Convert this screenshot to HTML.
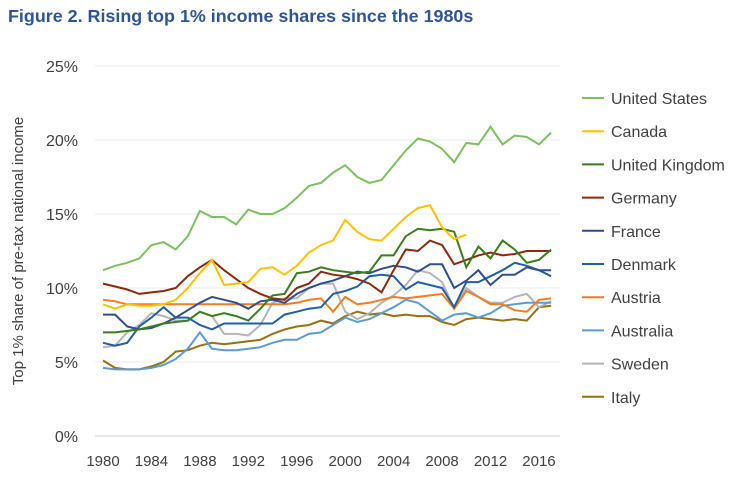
<!DOCTYPE html>
<html><head><meta charset="utf-8"><style>
body{margin:0;background:#fff;font-family:"Liberation Sans",sans-serif;}
svg text{font-family:"Liberation Sans",sans-serif;}
</style></head><body>
<svg id="c" width="754" height="477">
<text x="8" y="22" font-size="17.9" font-weight="bold" fill="#2f5597">Figure 2. Rising top 1% income shares since the 1980s</text>
<text transform="translate(23,251) rotate(-90)" text-anchor="middle" font-size="15" fill="#404040">Top 1% share of pre-tax national income</text>
<g id="grid"></g><g id="lines"></g><g id="legend"></g>
</svg>
<script>
const years=[];for(let y=1980;y<=2017;y++)years.push(y);
const yTicks=[0,5,10,15,20,25];
const xTicks=[1980,1984,1988,1992,1996,2000,2004,2008,2012,2016];
const names=["United States","Canada","United Kingdom","Germany","France","Denmark","Austria","Australia","Sweden","Italy"];
const colors=["#7fbf5f","#ffc000","#3a7d1c","#8b2a0b","#2e4f8f","#1f5fa8","#f47b20","#5b9bd5","#b4b4b4","#967012"];
const us=[11.2,11.5,11.7,12.0,12.9,13.1,12.6,13.5,15.2,14.8,14.8,14.3,15.3,15.0,15.0,15.4,16.1,16.9,17.1,17.8,18.3,17.5,17.1,17.3,18.3,19.3,20.1,19.9,19.4,18.5,19.8,19.7,20.9,19.7,20.3,20.2,19.7,20.5];
const canada=[8.9,8.6,8.9,8.8,8.8,8.9,9.2,10.0,11.0,11.9,10.2,10.3,10.4,11.3,11.4,10.9,11.5,12.4,12.9,13.2,14.6,13.8,13.3,13.2,14.0,14.8,15.4,15.6,14.1,13.3,13.6];
const uk=[7.0,7.0,7.1,7.2,7.4,7.6,7.7,7.8,8.4,8.1,8.3,8.1,7.8,8.6,9.5,9.6,11.0,11.1,11.4,11.2,11.1,11.0,11.1,12.2,12.2,13.5,14.0,13.9,14.0,13.8,11.4,12.8,12.0,13.2,12.6,11.7,11.9,12.6];
const germany=[10.3,10.1,9.9,9.6,9.7,9.8,10.0,10.8,11.4,11.9,11.2,10.6,10.0,9.6,9.3,9.2,10.0,10.3,11.1,10.9,10.8,10.6,10.3,9.7,11.2,12.6,12.5,13.2,12.9,11.6,11.9,12.2,12.4,12.2,12.3,12.5,12.5,12.5];
const france=[8.2,8.2,7.4,7.2,7.3,7.6,8.0,8.5,9.0,9.4,9.2,9.0,8.6,9.1,9.2,9.0,9.6,10.0,10.3,10.5,10.8,11.1,11.0,11.3,11.5,11.4,11.1,11.6,11.6,10.0,10.5,11.2,10.2,10.9,10.9,11.4,11.2,11.2];
const denmark=[6.3,6.1,6.3,7.4,8.0,8.7,8.0,8.0,7.5,7.2,7.6,7.6,7.6,7.6,7.6,8.2,8.4,8.6,8.7,9.6,9.8,10.1,10.8,10.9,10.8,9.9,10.4,10.2,10.0,8.7,10.4,10.4,10.8,11.2,11.7,11.5,11.2,10.8];
const austria=[9.2,9.1,8.9,8.9,8.9,8.9,8.9,8.9,8.9,8.9,8.9,8.9,8.9,8.9,8.9,8.9,9.0,9.2,9.3,8.4,9.4,8.9,9.0,9.2,9.4,9.3,9.4,9.5,9.6,8.6,9.8,9.4,8.9,8.9,8.5,8.4,9.2,9.3];
const australia=[4.6,4.5,4.5,4.5,4.6,4.8,5.2,5.9,7.0,5.9,5.8,5.8,5.9,6.0,6.3,6.5,6.5,6.9,7.0,7.5,8.0,7.7,7.9,8.3,8.7,9.2,9.0,8.4,7.8,8.2,8.3,8.0,8.3,8.8,8.9,9.0,9.0,9.0];
const sweden=[6.0,6.1,7.0,7.5,8.3,8.1,7.8,7.8,8.4,8.1,6.9,6.9,6.8,7.5,9.0,9.3,9.3,10.0,10.3,10.3,8.4,7.9,8.3,9.0,9.5,10.2,11.2,11.0,10.4,8.6,10.0,9.4,9.0,9.0,9.4,9.6,8.7,9.1];
const italy=[5.1,4.6,4.5,4.5,4.7,5.0,5.7,5.8,6.1,6.3,6.2,6.3,6.4,6.5,6.9,7.2,7.4,7.5,7.8,7.6,8.1,8.4,8.2,8.3,8.1,8.2,8.1,8.1,7.7,7.5,7.9,8.0,7.9,7.8,7.9,7.8,8.7,8.8];
const series=[us,canada,uk,germany,france,denmark,austria,australia,sweden,italy];
const NS="http://www.w3.org/2000/svg";
const X=y=>103+(y-1980)*12.11, Y=v=>436-v*14.8;
function mk(t,a,p){const e=document.createElementNS(NS,t);for(const k in a)e.setAttribute(k,a[k]);p.appendChild(e);return e;}
const g=document.getElementById('grid');
yTicks.forEach(v=>{
 const l=mk('line',{x1:95,x2:560,y1:Y(v),y2:Y(v),stroke:v===0?'#d9d9d9':'#efefef','stroke-width':1.3},g);
 
 
 const t=mk('text',{x:78,y:Y(v)+6,'text-anchor':'end','font-size':16,fill:'#404040'},g);t.textContent=v+'%';
 
 
});
xTicks.forEach(yr=>{
 const t=mk('text',{x:X(yr),y:466,'text-anchor':'middle','font-size':15,fill:'#404040'},g);t.textContent=yr;
 
 
});
const L=document.getElementById('lines');
for(let i=series.length-1;i>=0;i--){
 const d=series[i].map((v,j)=>(j?'L':'M')+X(years[j]).toFixed(1)+' '+Y(v).toFixed(1)).join('');
 const p=mk('path',{d:d,fill:'none',stroke:colors[i],'stroke-width':2},L);
 
 
}
const lg=document.getElementById('legend');
names.forEach((n,i)=>{
 const gy=98+i*33.2;
 const e=mk('g',{},lg);
 
 
 mk('line',{x1:582,x2:604,y1:gy,y2:gy,stroke:colors[i],'stroke-width':2},e);
 const t=mk('text',{x:611,y:gy+6,'font-size':16,fill:'#404040'},e);t.textContent=n;
});
</script>
</body></html>
